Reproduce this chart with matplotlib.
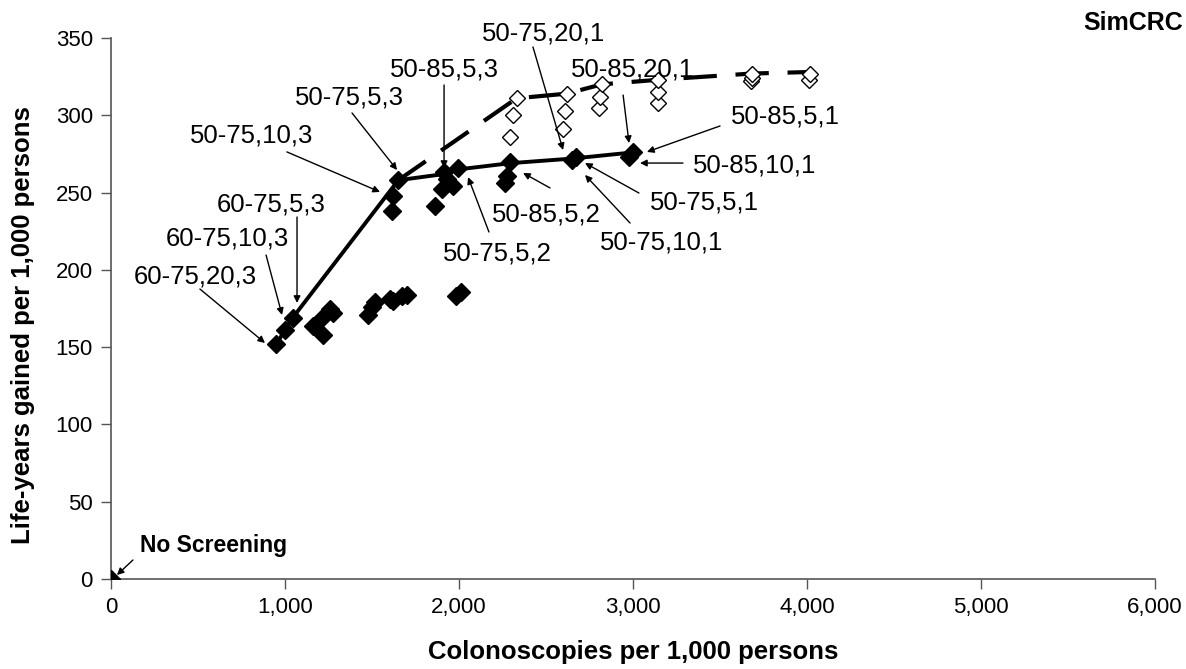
import matplotlib
matplotlib.use("Agg")
import matplotlib.pyplot as plt

plt.rcParams['font.family'] = ['Liberation Sans', 'DejaVu Sans']

# All strategies (filled diamonds): colonoscopies, life-years gained
filled_x = [0, 950, 1000, 1044, 1161, 1190, 1220, 1240, 1259, 1276,
            1479, 1498, 1517, 1603, 1622, 1670, 1699, 1980, 2010,
            1613, 1623, 1651, 1862, 1900, 1915, 1929, 1967, 1996,
            2264, 2274, 2293, 2647, 2670, 2979, 3000]
filled_y = [0, 152, 161, 169, 164, 166, 158, 172, 175, 172,
            171, 176, 179, 181, 180, 183, 184, 183, 186,
            238, 248, 258, 241, 252, 263, 259, 254, 266,
            256, 261, 270, 271, 273, 273, 276]

# Strategies shown as open diamonds
open_x = [2293, 2312, 2331, 2600, 2609, 2619, 2806, 2810, 2820,
          3146, 3146, 3146, 3680, 3682, 3682, 4013, 4017]
open_y = [286, 300, 311, 291, 303, 314, 305, 312, 320,
          308, 315, 323, 322, 324, 327, 323, 327]

# Efficient frontier (solid)
front_x = [950, 1000, 1044, 1651, 1915, 1996, 2293, 2650, 3000]
front_y = [152, 161, 169, 258, 262, 265, 269, 272, 276]

# Frontier of open-diamond strategies (dashed)
dash_x = [1651, 2331, 2619, 2820, 3146, 3682, 4017]
dash_y = [258, 311, 314, 320, 323, 327, 328]

# Annotations: label, text position, arrow start, arrow tip (data units)
ann_labels = ["60-75,20,3", "60-75,10,3", "60-75,5,3", "50-75,10,3", "50-75,5,3",
              "50-85,5,3", "50-75,20,1", "50-85,20,1", "50-85,5,1", "50-85,10,1",
              "50-75,5,1", "50-75,10,1", "50-85,5,2", "50-75,5,2"]
ann_text = [(483, 195.6), (667, 220.6), (920, 242), (810, 287), (1368, 311.8),
            (1914, 329.3), (2483, 353.2), (3000, 329.3), (3874, 298.9), (3701, 267.2),
            (3408, 243.3), (3167, 217.4), (2500, 235.5), (2218, 210.9)]
ann_start = [(511, 187.6), (891, 209.6), (1069, 234.2), (1011, 276.3), (1385, 301.5),
             (1914, 319.6), (2425, 344.2), (2943, 313.1), (3500, 293.1), (3287, 269.1),
             (3034, 249.7), (2983, 230.3), (2523, 253), (2172, 224.5)]
ann_tip = [(885, 152.7), (983, 170.8), (1069, 178.6), (1546, 250.4), (1644, 264.6),
           (1914, 265.9), (2598, 277.5), (2977, 282), (3080, 276.3), (3040, 269.1),
           (2724, 269.1), (2724, 261.4), (2368, 262.7), (2052, 260)]

x_ticks = [0, 1000, 2000, 3000, 4000, 5000, 6000]
y_ticks = [0, 50, 100, 150, 200, 250, 300, 350]

fig = plt.figure(figsize=(11.86, 6.69), dpi=100)
ax = fig.add_axes([0.0936, 0.1345, 0.8803, 0.8087])

ax.plot(front_x, front_y, color='black', lw=2.8, solid_capstyle='butt', zorder=2)
ax.plot(dash_x, dash_y, color='black', lw=3.0, linestyle=(0, (8, 4.5)), zorder=2)
ax.plot(filled_x, filled_y, linestyle='none', marker='D', markersize=9,
        markerfacecolor='black', markeredgecolor='black', zorder=3)
ax.plot(open_x, open_y, linestyle='none', marker='D', markersize=8.5,
        markerfacecolor='white', markeredgecolor='black', markeredgewidth=1.0, zorder=3)

arrowprops = dict(arrowstyle='-|>', color='black', lw=1.0, mutation_scale=10,
                  shrinkA=0, shrinkB=0)
for lab, t, s, p in zip(ann_labels, ann_text, ann_start, ann_tip):
    ax.text(t[0], t[1], lab, fontsize=18.5, ha='center', va='center', zorder=5)
    ax.annotate('', xy=p, xytext=s, arrowprops=arrowprops, zorder=4)

ax.text(167, 22, 'No Screening', fontsize=16.5, fontweight='bold', ha='left', va='center')
ax.annotate('', xy=(34, 2.6), xytext=(126, 12.3), arrowprops=arrowprops)

ax.set_xlim(0, 6000)
ax.set_ylim(0, 350)
ax.set_xticks(x_ticks)
ax.set_xticklabels([f"{v:,}" for v in x_ticks])
ax.set_yticks(y_ticks)
ax.set_yticklabels([str(v) for v in y_ticks])
ax.tick_params(axis='both', direction='out', length=7, width=1, labelsize=16,
               color='#555555', pad=6)
for side in ['top', 'right']:
    ax.spines[side].set_visible(False)
for side in ['left', 'bottom']:
    ax.spines[side].set_color('#555555')
    ax.spines[side].set_linewidth(1.2)

ax.set_xlabel('Colonoscopies per 1,000 persons', fontsize=18.5, fontweight='bold', labelpad=16)
ax.set_ylabel('Life-years gained per 1,000 persons', fontsize=18.5, fontweight='bold', labelpad=14)
ax.yaxis.set_label_coords(-0.073, 0.47)

fig.text(0.9975, 0.965, 'SimCRC', fontsize=18, fontweight='bold', ha='right', va='center')

fig.savefig('out.png', dpi=100)
